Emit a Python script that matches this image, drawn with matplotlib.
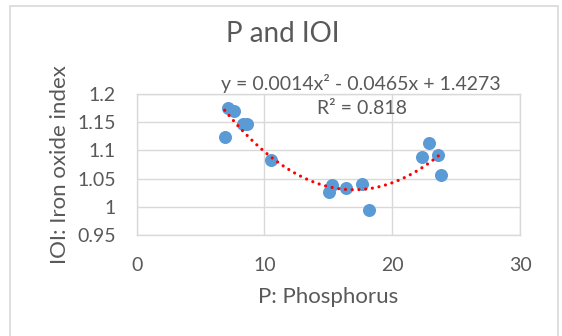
import matplotlib
matplotlib.use("Agg")
import matplotlib.pyplot as plt
from matplotlib.patches import Rectangle
import numpy as np

# Data
phosphorus = [6.89, 7.12, 7.61, 8.34, 8.65, 10.53, 15.07, 15.31, 16.38,
              17.65, 18.2, 22.32, 22.87, 23.58, 23.79]
ioi = [1.123, 1.175, 1.170, 1.147, 1.147, 1.083, 1.027, 1.039, 1.033,
       1.040, 0.995, 1.089, 1.113, 1.092, 1.056]

x_ticks = [0, 10, 20, 30]
y_ticks = [0.95, 1.0, 1.05, 1.1, 1.15, 1.2]
y_tick_labels = ["0.95", "1", "1.05", "1.1", "1.15", "1.2"]

plt.rcParams["font.family"] = ["Lato", "DejaVu Sans"]
text_color = "#595959"
grid_color = "#D9D9D9"

fig = plt.figure(figsize=(5.62, 3.36), dpi=100)
ax = fig.add_axes([0.2432, 0.3006, 0.6821, 0.4196])

# Outer chart border
fig.patches.append(Rectangle((10 / 562, -0.01), 548 / 562, 1.01 - 6 / 336,
                             transform=fig.transFigure, fill=False,
                             edgecolor=grid_color, linewidth=1.2))

ax.scatter(phosphorus, ioi, s=88, color="#5B9BD5", zorder=3, linewidths=0)

# Polynomial (order 2) trendline
coef = np.polyfit(phosphorus, ioi, 2)
xs = np.linspace(min(phosphorus), max(phosphorus), 200)
ax.plot(xs, np.polyval(coef, xs), color="#FF0000", linewidth=2.3,
        linestyle=(0, (0.01, 2.1)), dash_capstyle="round", zorder=4)

ax.set_xlim(0, 30)
ax.set_ylim(0.95, 1.2)
ax.set_xticks(x_ticks)
ax.set_yticks(y_ticks)
ax.set_yticklabels(y_tick_labels)
ax.tick_params(length=0, labelsize=14, colors=text_color)
ax.tick_params(axis="x", pad=16)
ax.tick_params(axis="y", pad=15)
ax.grid(True, color=grid_color, linewidth=1.0)
ax.set_axisbelow(True)
for sp in ax.spines.values():
    sp.set_color(grid_color)
    sp.set_linewidth(1.0)

ax.set_xlabel("P: Phosphorus", fontsize=16, color=text_color, labelpad=9)
ax.set_ylabel("IOI: Iron oxide index", fontsize=16, color=text_color, labelpad=5)
fig.text(0.504, 0.9, "P and IOI", fontsize=20, color=text_color,
         ha="center", va="center")

ax.text(0.584, 1.072, "y = 0.0014x² - 0.0465x + 1.4273", transform=ax.transAxes,
        fontsize=14, color=text_color, ha="center", va="center")
ax.text(0.587, 0.894, "R² = 0.818", transform=ax.transAxes,
        fontsize=14, color=text_color, ha="center", va="center")

plt.savefig("out.png", dpi=100)
